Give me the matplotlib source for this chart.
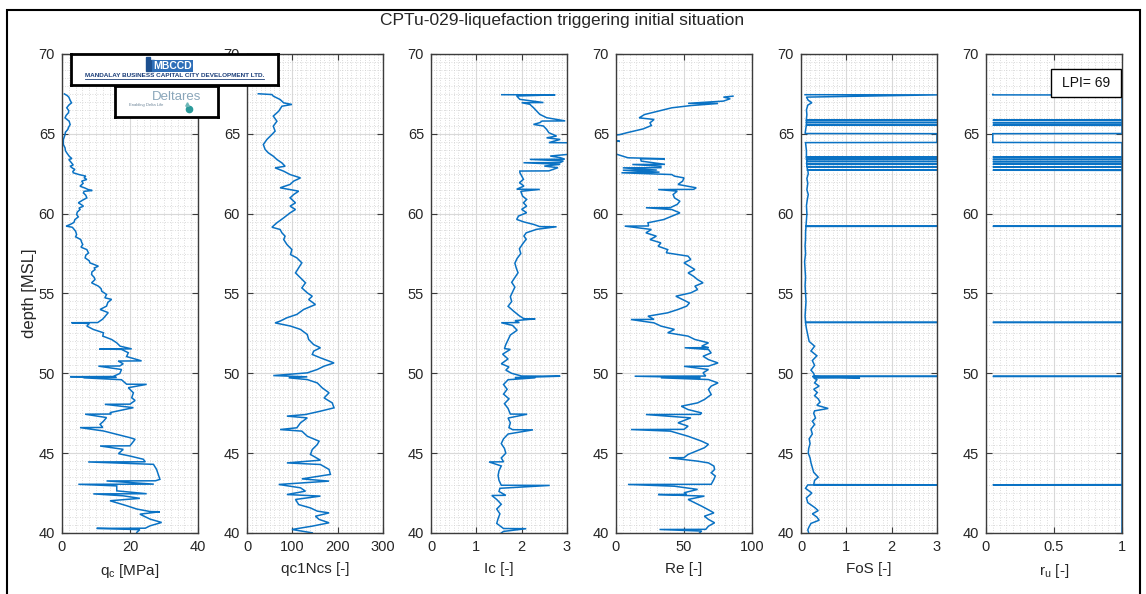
import matplotlib
matplotlib.use("Agg")
import matplotlib.pyplot as plt
from matplotlib.ticker import MultipleLocator, FuncFormatter
from matplotlib.patches import Rectangle

plt.rcParams['font.family'] = ['Liberation Sans', 'DejaVu Sans']

# ---------------- CPT profile data (depth in m MSL) ----------------
qc_depth = [67.50, 67.40, 67.30, 67.10, 66.94, 66.80, 66.63, 66.45, 66.32, 66.15, 66.00, 65.79, 65.58, 65.40,
            65.27, 65.10, 64.95, 64.64, 64.33, 64.12, 63.95, 63.81, 63.60, 63.45, 63.39, 63.18, 63.05, 62.97,
            62.85, 62.77, 62.65, 62.56, 62.45, 62.35, 62.25, 62.14, 62.04, 61.90, 61.72, 61.60, 61.51, 61.45,
            61.40, 61.30, 61.15, 60.99, 60.85, 60.68, 60.55, 60.47, 60.35, 60.26, 60.10, 59.95, 59.80, 59.63,
            59.45, 59.32, 59.22, 59.15, 59.11, 58.90, 58.69, 58.55, 58.38, 58.20, 58.07, 57.90, 57.75, 57.54,
            57.40, 57.23, 57.05, 56.92, 56.71, 56.60, 56.50, 56.35, 56.19, 56.00, 55.87, 55.67, 55.46, 55.30,
            55.14, 54.94, 54.73, 54.63, 54.45, 54.21, 54.00, 53.80, 53.40, 53.18, 53.17, 53.12, 52.96, 52.75,
            52.54, 52.33, 52.12, 51.91, 51.70, 51.53, 51.52, 51.50, 51.29, 51.05, 50.78, 50.77, 50.60, 50.46,
            50.45, 50.24, 49.99, 49.80, 49.79, 49.75, 49.72, 49.60, 49.32, 49.31, 49.10, 48.78, 48.47, 48.30,
            48.07, 48.06, 47.85, 47.54, 47.45, 47.44, 47.23, 47.00, 46.81, 46.61, 46.60, 46.39, 46.18, 45.97,
            45.87, 45.46, 45.45, 45.24, 44.97, 44.82, 44.62, 44.46, 44.45, 44.30, 43.99, 43.68, 43.36, 43.27,
            43.26, 43.06, 43.05, 42.95, 42.64, 42.46, 42.45, 42.33, 42.17, 42.02, 41.71, 41.50, 41.34, 41.33,
            41.18, 40.87, 40.66, 40.45, 40.30, 40.29, 40.21, 40.04]
qc_values = [0.7, 1.5, 2.0, 2.4, 2.8, 2.0, 1.4, 2.0, 1.9, 1.2, 0.9, 2.1, 2.4, 1.9,
             1.7, 1.0, 0.9, 0.4, 0.4, 0.9, 1.0, 1.4, 2.1, 2.9, 2.0, 2.8, 3.3, 2.4,
             3.1, 3.8, 3.2, 3.3, 5.0, 7.0, 6.5, 7.3, 5.8, 6.2, 5.3, 6.8, 7.7, 8.9,
             6.5, 6.3, 7.0, 7.3, 6.1, 4.8, 5.8, 6.3, 5.0, 5.3, 4.5, 4.3, 4.8, 3.8,
             3.5, 2.4, 1.2, 3.0, 3.2, 4.0, 4.3, 4.0, 5.5, 5.8, 6.1, 5.6, 7.3, 7.8,
             7.0, 6.8, 8.0, 8.2, 10.7, 9.5, 9.7, 8.8, 8.7, 9.5, 9.7, 8.7, 10.7, 11.5,
             11.7, 13.1, 12.6, 14.6, 13.5, 13.1, 11.2, 13.6, 12.0, 10.5, 2.8, 8.0, 7.3, 9.2,
             12.2, 12.0, 14.6, 16.1, 17.1, 20.5, 11.0, 17.5, 19.5, 19.0, 23.4, 16.5, 18.0, 17.0,
             10.7, 17.5, 17.0, 15.0, 2.4, 16.0, 6.3, 17.5, 19.0, 24.9, 19.5, 21.0, 20.5, 21.5,
             20.0, 12.6, 21.0, 14.1, 14.5, 6.8, 13.1, 12.2, 11.2, 12.0, 5.3, 12.2, 16.1, 20.0,
             21.5, 20.0, 11.2, 18.0, 16.6, 20.0, 23.9, 24.5, 7.7, 26.9, 27.8, 28.3, 28.8, 27.5,
             13.1, 27.0, 4.8, 16.1, 16.1, 24.9, 9.2, 18.0, 22.9, 14.1, 19.0, 22.0, 26.0, 28.8,
             22.9, 25.9, 29.3, 25.9, 24.5, 10.2, 22.9, 22.0]

qc1ncs_depth = [67.51, 67.46, 67.36, 67.15, 66.94, 66.84, 66.73, 66.42, 66.11, 65.79, 65.48, 65.17, 64.96, 64.65,
                64.33, 64.02, 63.81, 63.60, 63.39, 63.18, 62.97, 62.87, 62.66, 62.45, 62.24, 62.04, 61.83, 61.62,
                61.41, 61.20, 60.99, 60.68, 60.47, 60.26, 60.05, 59.74, 59.43, 59.15, 59.01, 58.80, 58.59, 58.38,
                58.07, 57.75, 57.44, 57.23, 56.92, 56.61, 56.29, 55.98, 55.67, 55.35, 55.04, 54.83, 54.62, 54.31,
                54.00, 53.69, 53.48, 53.27, 53.16, 52.96, 52.75, 52.43, 52.12, 51.80, 51.60, 51.39, 51.18, 50.97,
                50.65, 50.45, 50.24, 50.03, 49.86, 49.78, 49.72, 49.61, 49.40, 49.09, 48.78, 48.46, 48.15, 47.84,
                47.63, 47.42, 47.32, 47.21, 46.90, 46.59, 46.48, 46.38, 46.06, 45.75, 45.54, 45.23, 44.92, 44.56,
                44.39, 44.29, 43.98, 43.67, 43.39, 43.25, 43.04, 42.83, 42.62, 42.41, 42.31, 42.10, 41.78, 41.57,
                41.37, 41.26, 41.05, 40.85, 40.64, 40.43, 40.22, 40.01]
qc1ncs_values = [25, 55, 58, 73, 81, 99, 77, 70, 58, 66, 58, 62, 55, 44,
                 36, 40, 47, 58, 66, 77, 84, 62, 81, 95, 118, 103, 95, 73,
                 114, 103, 95, 107, 95, 107, 95, 81, 66, 55, 73, 77, 84, 81,
                 88, 99, 96, 110, 121, 114, 107, 118, 129, 121, 133, 144, 136, 151,
                 125, 110, 88, 73, 62, 96, 118, 133, 136, 147, 162, 147, 144, 162,
                 192, 170, 155, 133, 58, 133, 92, 133, 155, 166, 181, 170, 188, 192,
                 162, 129, 88, 133, 118, 110, 73, 121, 133, 159, 155, 144, 140, 162,
                 88, 162, 181, 184, 121, 181, 70, 118, 129, 88, 162, 107, 114, 140,
                 155, 181, 151, 159, 181, 144, 99, 144]

ic_depth = [67.45, 67.44, 67.37, 67.16, 66.96, 66.95, 66.85, 66.64, 66.43, 66.22, 66.01, 65.81, 65.80, 65.70,
            65.59, 65.49, 65.28, 65.07, 64.86, 64.75, 64.65, 64.45, 64.44, 64.20, 63.95, 63.72, 63.61, 63.51,
            63.41, 63.40, 63.30, 63.20, 63.19, 63.09, 62.98, 62.88, 62.68, 62.67, 62.57, 62.36, 62.15, 61.94,
            61.73, 61.53, 61.52, 61.40, 61.10, 60.89, 60.68, 60.47, 60.27, 60.06, 59.85, 59.64, 59.48, 59.33,
            59.19, 59.18, 59.02, 58.80, 58.60, 58.40, 58.10, 57.80, 57.50, 57.20, 56.90, 56.60, 56.30, 56.00,
            55.70, 55.40, 55.10, 54.80, 54.50, 54.20, 53.90, 53.60, 53.42, 53.41, 53.30, 53.18, 53.17, 53.00,
            52.70, 52.40, 52.10, 51.80, 51.55, 51.50, 51.20, 50.90, 50.60, 50.40, 50.20, 50.00, 49.83, 49.82,
            49.73, 49.72, 49.60, 49.30, 49.00, 48.70, 48.40, 48.10, 47.80, 47.45, 47.44, 47.20, 46.90, 46.60,
            46.47, 46.46, 46.20, 45.90, 45.60, 45.30, 45.00, 44.70, 44.46, 44.45, 44.20, 43.90, 43.60, 43.30,
            42.99, 42.98, 42.80, 42.60, 42.36, 42.35, 42.10, 41.80, 41.50, 41.20, 40.90, 40.60, 40.28, 40.27,
            40.10, 40.00]
ic_values = [1.56, 2.74, 1.89, 1.96, 2.48, 2.00, 2.18, 2.26, 2.33, 2.40, 2.55, 2.96, 2.45, 2.40,
             2.26, 2.48, 2.55, 2.60, 2.77, 2.55, 2.85, 2.60, 3.05, 3.05, 3.05, 3.05, 2.63, 2.85,
             2.95, 2.18, 2.92, 2.85, 2.04, 2.85, 2.50, 2.80, 2.60, 1.96, 1.96, 2.00, 2.04, 1.95,
             2.05, 1.89, 2.40, 1.98, 2.02, 2.11, 2.04, 2.11, 2.00, 2.11, 1.93, 1.89, 2.05, 2.26,
             2.40, 2.77, 2.33, 2.10, 2.05, 2.10, 2.02, 1.95, 1.98, 1.90, 1.85, 1.88, 1.92, 1.85,
             1.78, 1.85, 1.80, 1.75, 1.78, 1.70, 1.82, 1.95, 2.05, 2.30, 1.85, 1.95, 1.55, 1.80,
             1.90, 1.75, 1.70, 1.65, 1.62, 1.75, 1.58, 1.70, 1.55, 1.72, 1.65, 1.78, 2.00, 2.85,
             1.85, 2.30, 1.70, 1.60, 1.68, 1.60, 1.72, 1.62, 1.70, 1.75, 2.12, 1.70, 1.75, 1.72,
             1.80, 2.25, 1.70, 1.60, 1.55, 1.62, 1.65, 1.55, 1.60, 1.28, 1.55, 1.50, 1.48, 1.50,
             1.55, 2.62, 1.52, 1.50, 1.65, 1.34, 1.45, 1.55, 1.45, 1.52, 1.48, 1.45, 1.60, 2.10,
             1.60, 1.55]

re_depth = [67.36, 67.30, 67.20, 67.05, 66.91, 66.90, 66.77, 66.63, 66.42, 66.21, 66.00, 65.90, 65.69, 65.52,
            65.31, 65.06, 64.95, 64.85, 64.60, 64.54, 64.50, 64.00, 63.50, 63.44, 63.43, 63.29, 63.09, 63.08,
            62.97, 62.88, 62.87, 62.73, 62.72, 62.60, 62.56, 62.45, 62.35, 62.24, 62.04, 61.83, 61.62, 61.52,
            61.51, 61.41, 61.20, 60.99, 60.78, 60.58, 60.38, 60.37, 60.26, 60.05, 59.84, 59.63, 59.43, 59.23,
            59.22, 59.01, 58.80, 58.59, 58.38, 58.17, 57.96, 57.75, 57.55, 57.34, 57.13, 56.92, 56.71, 56.50,
            56.29, 56.08, 55.87, 55.67, 55.46, 55.25, 55.04, 54.83, 54.62, 54.41, 54.21, 54.00, 53.79, 53.58,
            53.38, 53.37, 53.16, 52.96, 52.75, 52.54, 52.33, 52.12, 51.91, 51.70, 51.61, 51.60, 51.49, 51.28,
            51.07, 50.86, 50.65, 50.45, 50.44, 50.24, 50.03, 49.83, 49.82, 49.73, 49.72, 49.61, 49.40, 49.20,
            48.99, 48.67, 48.36, 48.15, 47.94, 47.73, 47.52, 47.43, 47.42, 47.21, 46.90, 46.69, 46.49, 46.48,
            46.38, 46.06, 45.75, 45.55, 45.34, 45.13, 44.92, 44.72, 44.71, 44.50, 44.39, 44.19, 43.98, 43.77,
            43.57, 43.36, 43.05, 43.04, 42.93, 42.73, 42.52, 42.42, 42.41, 42.31, 42.10, 41.89, 41.68, 41.47,
            41.26, 41.05, 40.85, 40.64, 40.43, 40.23, 40.22, 40.12, 40.01]
re_values = [86, 79, 84, 79, 53, 75, 55, 41, 31, 21, 17, 28, 25, 26,
             20, 7.6, 2.7, -8, -6, 2.7, -8, -10, 8.8, 36, 18, 18.6, 36, 12,
             33, 33, 5, 30, 5, 32, 4, 41, 43, 50, 49, 45.6, 59, 57,
             31, 45, 42, 43, 47, 45, 40, 22, 41, 47, 41, 35, 23.5, 24,
             6.4, 26, 22, 29.7, 25, 33, 31, 38, 37, 53, 55, 50, 54, 58,
             53, 57, 60, 64, 58, 60, 55, 44, 49, 54, 52, 45.6, 38, 23.5,
             28, 11, 28, 33, 43, 38, 53, 58, 68, 63, 68, 50.5, 68, 70,
             64, 68, 75, 68, 50, 68, 64, 66, 13.7, 62, 33, 68, 75, 70,
             68, 70, 65, 60, 48, 53, 63, 62, 22, 55, 45.6, 53, 50, 11,
             40, 53, 63, 68, 65, 59, 53, 50, 39, 60, 68, 72, 72.5, 70,
             73, 72, 70, 8.8, 43, 60, 50, 52, 31, 65, 53, 58, 63, 67.6,
             72, 65, 68, 72.5, 68, 66, 32, 63, 61.5]

fos_depth = [67.45, 67.44, 67.30, 67.10, 66.95, 66.80, 66.50, 66.20, 65.95, 65.86, 65.85, 65.84, 65.72, 65.71,
             65.70, 65.56, 65.55, 65.54, 65.40, 65.20, 65.02, 65.01, 64.46, 64.45, 64.20, 63.95, 63.70, 63.56,
             63.55, 63.54, 63.42, 63.41, 63.40, 63.28, 63.27, 63.26, 63.12, 63.11, 63.10, 62.95, 62.94, 62.93,
             62.74, 62.73, 62.72, 62.50, 62.20, 61.90, 61.50, 61.20, 60.90, 60.50, 60.00, 59.60, 59.22, 59.21,
             59.20, 58.80, 58.40, 58.00, 57.50, 57.00, 56.50, 56.00, 55.50, 55.00, 54.50, 54.00, 53.60, 53.20,
             53.19, 53.18, 52.80, 52.40, 52.00, 51.70, 51.40, 51.10, 50.80, 50.50, 50.20, 50.00, 49.82, 49.81,
             49.80, 49.72, 49.71, 49.60, 49.40, 49.20, 49.00, 48.80, 48.60, 48.40, 48.20, 48.00, 47.80, 47.65,
             47.50, 47.20, 47.00, 46.80, 46.50, 46.20, 45.90, 45.60, 45.30, 45.00, 44.70, 44.40, 44.10, 43.80,
             43.50, 43.30, 43.03, 43.02, 43.01, 42.80, 42.50, 42.20, 41.90, 41.60, 41.40, 41.20, 41.00, 40.80,
             40.60, 40.40, 40.20, 40.00]
fos_values = [0.09, 3.0, 0.12, 0.16, 0.24, 0.15, 0.12, 0.13, 0.12, 0.12, 3.0, 0.12, 0.12, 3.0,
              0.12, 0.12, 3.0, 0.12, 0.11, 0.10, 0.09, 3.0, 3.0, 0.10, 0.11, 0.12, 0.12, 0.12,
              3.0, 0.12, 0.12, 3.0, 0.12, 0.14, 3.0, 0.13, 0.12, 3.0, 0.13, 0.13, 3.0, 0.14,
              0.14, 3.0, 0.15, 0.16, 0.13, 0.15, 0.13, 0.16, 0.14, 0.12, 0.13, 0.12, 0.11, 3.0,
              0.11, 0.10, 0.10, 0.09, 0.10, 0.08, 0.09, 0.10, 0.09, 0.10, 0.11, 0.10, 0.09, 0.10,
              3.0, 0.10, 0.12, 0.15, 0.18, 0.30, 0.22, 0.35, 0.25, 0.30, 0.22, 0.28, 0.30, 3.0,
              0.25, 1.30, 0.28, 0.35, 0.30, 0.40, 0.28, 0.36, 0.30, 0.38, 0.42, 0.35, 0.60, 0.30,
              0.28, 0.32, 0.25, 0.30, 0.22, 0.25, 0.18, 0.20, 0.17, 0.16, 0.20, 0.22, 0.25, 0.28,
              0.38, 0.30, 0.28, 3.0, 0.15, 0.10, 0.24, 0.12, 0.15, 0.30, 0.38, 0.25, 0.35, 0.40,
              0.22, 0.18, 0.15, 0.17]

ru_depth = [67.47, 67.44, 67.43, 65.86, 65.85, 65.84, 65.71, 65.70, 65.69, 65.55, 65.54, 65.53, 65.02, 65.01,
            64.46, 64.45, 63.56, 63.55, 63.54, 63.41, 63.40, 63.39, 63.27, 63.26, 63.25, 63.11, 63.10, 63.09,
            62.94, 62.93, 62.92, 62.73, 62.72, 62.71, 59.22, 59.21, 59.20, 53.20, 53.19, 53.18, 49.82, 49.81,
            49.80, 43.03, 43.02, 43.01, 40.00]
ru_values = [0.05, 0.05, 1.0, 1.0, 0.05, 1.0, 1.0, 0.05, 1.0, 1.0, 0.05, 1.0, 1.0, 0.05,
             0.05, 1.0, 1.0, 0.05, 1.0, 1.0, 0.05, 1.0, 1.0, 0.05, 1.0, 1.0, 0.05, 1.0,
             1.0, 0.05, 1.0, 1.0, 0.05, 1.0, 1.0, 0.05, 1.0, 1.0, 0.05, 1.0, 1.0, 0.05,
             1.0, 1.0, 0.05, 1.0, 1.0]

lpi_value = 69
title_text = "CPTu-029-liquefaction triggering initial situation"

panels = [
    (qc_depth, qc_values, (0, 40), 20, 2, 'q$_\\mathregular{c}$ [MPa]'),
    (qc1ncs_depth, qc1ncs_values, (0, 300), 100, 10, 'qc1Ncs [-]'),
    (ic_depth, ic_values, (0, 3), 1, 0.1, 'Ic [-]'),
    (re_depth, re_values, (0, 100), 50, 5, 'Re [-]'),
    (fos_depth, fos_values, (0, 3), 1, 0.1, 'FoS [-]'),
    (ru_depth, ru_values, (0, 1), 0.5, 0.05, 'r$_\\mathregular{u}$ [-]'),
]

# ---------------- figure layout ----------------
W, H = 1146, 594
fig = plt.figure(figsize=(W / 100, H / 100), dpi=100)

line_color = '#0a72c4'
axis_color = '#3c3c3c'
text_color = '#262626'
lefts = [62, 247, 431, 616, 801, 986]
ax_w, ax_top, ax_bot = 136, 54, 533

axes = []
for i, (dep, val, xlim, major, minor, label) in enumerate(panels):
    ax = fig.add_axes([lefts[i] / W, 1 - ax_bot / H, ax_w / W, (ax_bot - ax_top) / H])
    ax.plot(val, dep, color=line_color, lw=1.1, solid_joinstyle='miter')
    ax.set_xlim(*xlim)
    ax.set_ylim(40, 70)
    ax.xaxis.set_major_locator(MultipleLocator(major))
    ax.xaxis.set_minor_locator(MultipleLocator(minor))
    ax.yaxis.set_major_locator(MultipleLocator(5))
    ax.yaxis.set_minor_locator(MultipleLocator(0.5))
    ax.grid(which='major', color='#d9d9d9', lw=0.8, ls='-')
    ax.grid(which='minor', color='#d0d0d0', lw=0.6, ls=(0, (1, 2)))
    ax.set_axisbelow(True)
    ax.tick_params(which='major', direction='in', length=4, width=0.8, top=True, right=True,
                   colors=axis_color, labelcolor=text_color, labelsize=10.5, pad=5)
    ax.tick_params(which='minor', length=0)
    for s in ax.spines.values():
        s.set_color(axis_color)
        s.set_linewidth(1.0)
    ax.set_xlabel(label, fontsize=11, color=text_color, labelpad=6)
    ax.xaxis.set_major_formatter(FuncFormatter(lambda v, p: f'{v:g}'))
    axes.append(ax)

axes[0].set_ylabel('depth [MSL]', fontsize=12, color=text_color, labelpad=1)

# LPI annotation box in the top-right corner of the r_u panel
ru_ax = axes[5]
ru_ax.add_patch(Rectangle((0.478, 0.910), 0.515, 0.059, transform=ru_ax.transAxes,
                          fc='white', ec='black', lw=1.0, zorder=5))
ru_ax.text(0.735, 0.940, f'LPI= {lpi_value}', transform=ru_ax.transAxes, ha='center', va='center',
           fontsize=10, color='#111111', zorder=6)

fig.text(562 / W, 1 - 20 / H, title_text, ha='center', va='center', fontsize=12.5, color=text_color)

# figure frame
fig.add_artist(Rectangle((7 / W, -0.02), (1140 - 7) / W, 1.02 - 10 / H, transform=fig.transFigure,
                         fill=False, ec='black', lw=1.5))

# ---------------- logos ----------------
def logo_axes(x0, y0, x1, y1):
    a = fig.add_axes([x0 / W, 1 - y1 / H, (x1 - x0) / W, (y1 - y0) / H])
    a.set_xlim(0, 1)
    a.set_ylim(0, 1)
    a.set_xticks([])
    a.set_yticks([])
    a.set_facecolor('white')
    for s in a.spines.values():
        s.set_color('black')
        s.set_linewidth(2.0)
    a.set_zorder(10)
    return a

la = logo_axes(71, 54, 278, 85)
la.add_patch(Rectangle((0.362, 0.46), 0.020, 0.44, color='#1c4f8f'))
la.add_patch(Rectangle((0.386, 0.46), 0.014, 0.34, color='#1c4f8f'))
la.text(0.49, 0.62, 'MBCCD', ha='center', va='center', fontsize=7.5, color='white', fontweight='bold',
        bbox=dict(boxstyle='square,pad=0.12', fc='#2f6fb8', ec='none'))
la.text(0.5, 0.30, 'MANDALAY BUSINESS CAPITAL CITY DEVELOPMENT LTD.', ha='center', va='center',
        fontsize=4.6, color='#1c3f7a', fontweight='bold')
la.plot([0.07, 0.93], [0.18, 0.18], color='#1c3f7a', lw=0.6)

lb = logo_axes(115, 86, 218, 117)
lb.text(0.6, 0.66, 'Deltares', ha='center', va='center', fontsize=9.5, color='#8aa6ba')
lb.text(0.3, 0.40, 'Enabling Delta Life', ha='center', va='center', fontsize=3, color='#6a8296')
lb.plot([0.72], [0.27], marker='o', ms=4.5, color='#2a9a9a')
lb.plot([0.70], [0.42], marker='^', ms=2.5, color='#6fb8b8')

fig.savefig('out.png', dpi=100)
